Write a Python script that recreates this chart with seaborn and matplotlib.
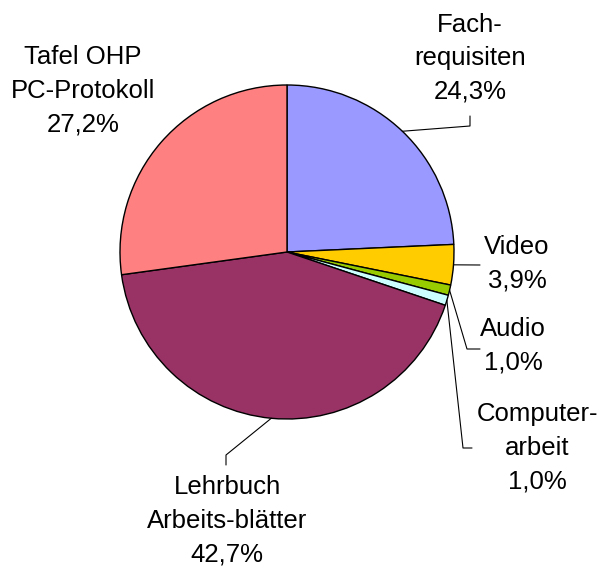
import numpy as np
import matplotlib
matplotlib.use('Agg')
import matplotlib.pyplot as plt
import seaborn as sns

# data
labels = ['Fach-\nrequisiten', 'Video', 'Audio', 'Computer-\narbeit',
          'Lehrbuch\nArbeits-blätter', 'Tafel OHP\nPC-Protokoll']
values = [24.3, 3.9, 1.0, 1.0, 42.7, 27.2]
pct_text = ['24,3%', '3,9%', '1,0%', '1,0%', '42,7%', '27,2%']
colors = ['#9999FF', '#FFCC00', '#99CC00', '#CCFFFF', '#993366', '#FF8080']

sns.set_style('white')
plt.rcParams['font.family'] = ['Liberation Sans', 'DejaVu Sans']
plt.rcParams['text.color'] = 'black'

W, H = 601, 570
fig = plt.figure(figsize=(W / 100, H / 100), dpi=100)
ax = fig.add_axes([0, 0, 1, 1])

def fy(y):
    # pixel row (from top) -> data y
    return H - y

cx, cy, r = 287, fy(252), 167
wedges, _ = ax.pie(values, colors=sns.color_palette(colors), startangle=90,
                   counterclock=False, center=(cx, cy), radius=r,
                   wedgeprops=dict(edgecolor='black', linewidth=1))
ax.set_xlim(0, W)
ax.set_ylim(0, H)
ax.set_aspect('equal')
ax.axis('off')

# label positions (pixel coords, from top) and leader elbows
label_pos = [(470, 58), (517, 264), (513, 346), (537, 448), (227, 521), (83, 91)]
elbows = [
    [(470, 126), (470, 116)],
    [(480, 265)],
    [(467, 349), (480, 349)],
    [(463, 448), (472, 448)],
    [(226, 455), (226, 465)],
    None,
]

for w, lab, pct, pos, elb in zip(wedges, labels, pct_text, label_pos, elbows):
    ax.text(pos[0], fy(pos[1]), lab + '\n' + pct, ha='center', va='center',
            fontsize=18.5, linespacing=1.5, multialignment='center',
            color='black')
    if elb is None:
        continue
    mid = np.deg2rad((w.theta1 + w.theta2) / 2)
    xs = [cx + r * np.cos(mid)] + [p[0] for p in elb]
    ys = [cy + r * np.sin(mid)] + [fy(p[1]) for p in elb]
    ax.plot(xs, ys, color='black', linewidth=0.8)

fig.savefig('out.png', dpi=100)
